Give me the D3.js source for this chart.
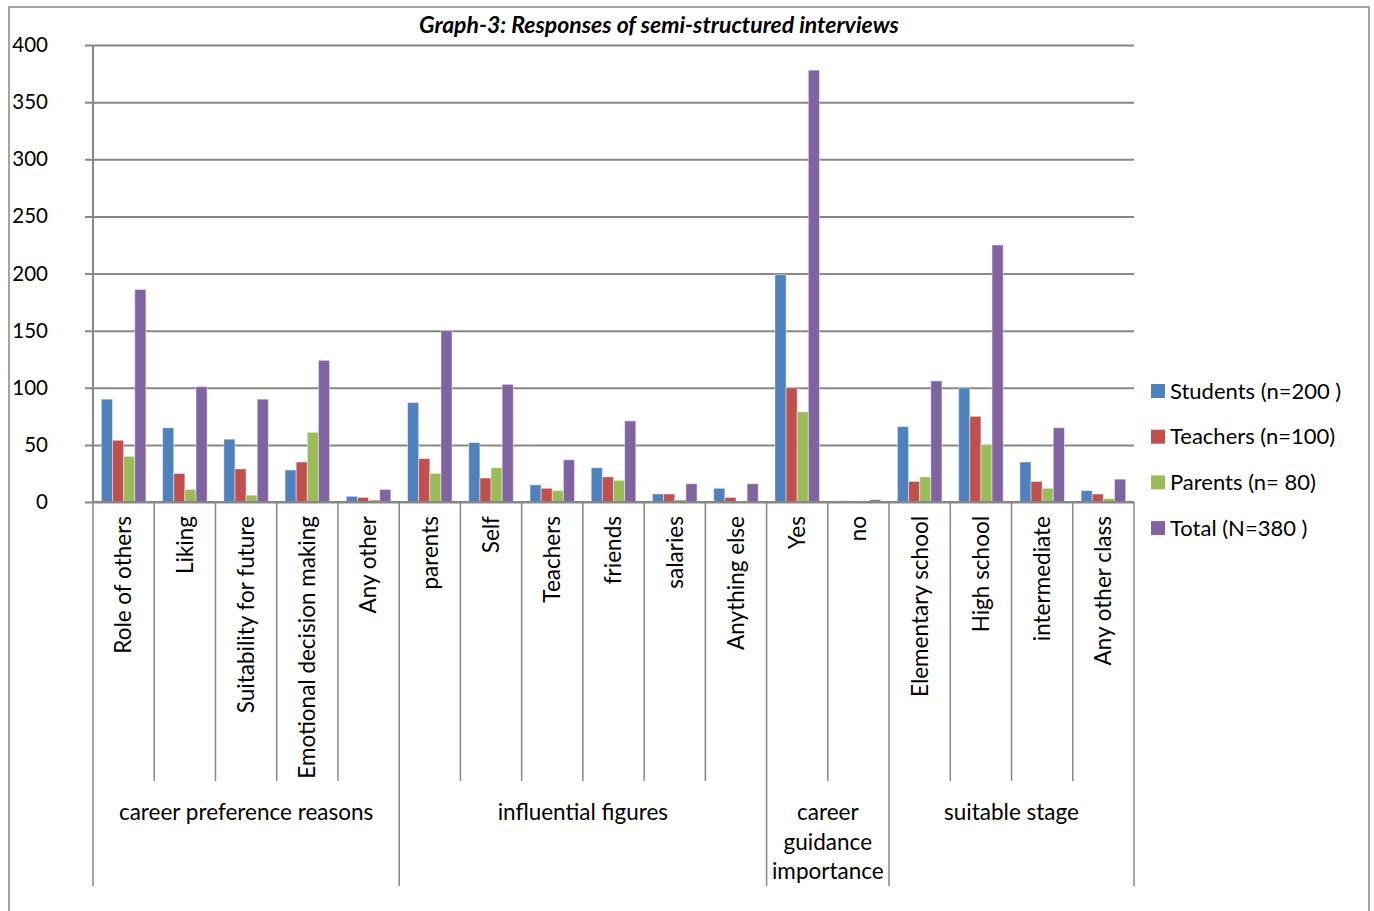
<!DOCTYPE html>
<html>
<head>
<meta charset="utf-8">
<script src="https://cdn.jsdelivr.net/npm/d3@7"></script>
<style>
  html, body { margin: 0; padding: 0; background: #fff; }
  svg { display: block; font-family: Lato, "Open Sans", sans-serif; }
</style>
</head>
<body>
<svg id="chart" width="1374" height="911"></svg>
<script>
// Categories along the x axis, with their group
const categories = ["Role of others", "Liking", "Suitability for future", "Emotional decision making", "Any other",
  "parents", "Self", "Teachers", "friends", "salaries", "Anything else",
  "Yes", "no",
  "Elementary school", "High school", "intermediate", "Any other class"];
const groups = [
  { name: ["career preference reasons"], size: 5 },
  { name: ["influential figures"], size: 6 },
  { name: ["career", "guidance", "importance"], size: 2 },
  { name: ["suitable stage"], size: 4 }
];

// Response counts per series
const students = [90, 65, 55, 28, 5, 87, 52, 15, 30, 7, 12, 199, 1, 66, 100, 35, 10];
const teachers = [54, 25, 29, 35, 4, 38, 21, 12, 22, 7, 4, 100, 0, 18, 75, 18, 7];
const parents  = [40, 11, 6, 61, 2, 25, 30, 10, 19, 2, 0, 79, 1, 22, 50, 12, 3];
const total    = [186, 101, 90, 124, 11, 150, 103, 37, 71, 16, 16, 378, 2, 106, 225, 65, 20];

const seriesNames = ["Students (n=200 )", "Teachers (n=100)", "Parents (n= 80)", "Total (N=380 )"];
const seriesValues = [students, teachers, parents, total];
const colors = ["#4F81BD", "#C0504D", "#9BBB59", "#8064A2"];
const yTicks = [0, 50, 100, 150, 200, 250, 300, 350, 400];

const title = "Graph-3: Responses of semi-structured interviews";

(function () {
  const svg = d3.select("#chart");
  const axisColor = "#878787";
  const labelSize = 22.5;

  // Plot area
  const pLeft = 93, pRight = 1134, pTop = 45, pBottom = 502;

  const x = d3.scaleBand().domain(d3.range(categories.length)).range([pLeft, pRight]).paddingInner(0).paddingOuter(0);
  const y = d3.scaleLinear().domain([0, 400]).range([pBottom, pTop]);

  // Outer frame
  svg.append("path")
    .attr("d", "M9,911 V7 H1369 V911")
    .attr("fill", "none").attr("stroke", axisColor).attr("stroke-width", 1.5);

  // Title
  svg.append("text")
    .attr("x", 659).attr("y", 33)
    .attr("text-anchor", "middle")
    .attr("font-size", 23).attr("font-weight", "bold").attr("font-style", "italic")
    .attr("fill", "#000")
    .text(title);

  // Horizontal gridlines and y tick labels
  const yAxis = d3.axisLeft(y).tickValues(yTicks).tickSize(pRight - pLeft + 8).tickSizeOuter(0).tickPadding(0);
  const yg = svg.append("g").attr("transform", `translate(${pRight},0)`).call(yAxis);
  yg.select(".domain").remove();
  yg.selectAll(".tick line").attr("stroke", axisColor).attr("stroke-width", 2);
  yg.selectAll(".tick text")
    .attr("x", -(pRight - 48))
    .attr("text-anchor", "end")
    .attr("font-size", 20.5).attr("font-family", "Lato, 'Open Sans', sans-serif")
    .attr("fill", "#000");

  // Bars
  const bandW = x.bandwidth();
  const barW = bandW / 5.5;
  const xs = d3.scaleBand().domain(d3.range(4)).range([barW * 0.75, barW * 4.75]);

  const barG = svg.append("g");
  seriesValues.forEach((vals, si) => {
    barG.selectAll(null)
      .data(vals)
      .enter()
      .append("rect")
      .attr("x", (d, i) => x(i) + xs(si))
      .attr("y", d => y(d))
      .attr("width", xs.bandwidth())
      .attr("height", d => pBottom - y(d))
      .attr("fill", colors[si])
      .attr("stroke", "rgba(255,255,255,0.45)")
      .attr("stroke-width", 1);
  });

  // Y axis line
  svg.append("line")
    .attr("x1", pLeft).attr("x2", pLeft).attr("y1", pTop).attr("y2", pBottom)
    .attr("stroke", axisColor).attr("stroke-width", 2);

  // X axis baseline
  svg.append("line")
    .attr("x1", pLeft).attr("x2", pRight).attr("y1", pBottom).attr("y2", pBottom)
    .attr("stroke", axisColor).attr("stroke-width", 2);

  // Category separators (short within groups, long at group boundaries)
  const groupEdges = new Set([0]);
  let acc = 0;
  groups.forEach(g => { acc += g.size; groupEdges.add(acc); });
  const sepG = svg.append("g");
  for (let i = 0; i <= categories.length; i++) {
    const xx = i < categories.length ? x(i) : pRight;
    sepG.append("line")
      .attr("x1", xx).attr("x2", xx)
      .attr("y1", pBottom).attr("y2", groupEdges.has(i) ? 886 : 781)
      .attr("stroke", axisColor).attr("stroke-width", 1.5);
  }

  // Rotated category labels
  svg.append("g").selectAll("text")
    .data(categories)
    .enter()
    .append("text")
    .attr("transform", (d, i) => `translate(${x(i) + bandW / 2},516) rotate(-90)`)
    .attr("text-anchor", "end")
    .attr("dy", "0.35em")
    .attr("font-size", labelSize)
    .attr("fill", "#000")
    .text(d => d);

  // Group labels
  let start = 0;
  groups.forEach(g => {
    const x0 = x(start);
    const x1 = start + g.size < categories.length ? x(start + g.size) : pRight;
    const t = svg.append("text")
      .attr("x", (x0 + x1) / 2).attr("y", 820)
      .attr("text-anchor", "middle")
      .attr("font-size", labelSize).attr("fill", "#000");
    g.name.forEach((line, li) => {
      t.append("tspan").attr("x", (x0 + x1) / 2).attr("dy", li === 0 ? 0 : 29.5).text(line);
    });
    start += g.size;
  });

  // Legend
  const legend = svg.append("g").attr("transform", "translate(1151,391)");
  seriesNames.forEach((name, i) => {
    const row = legend.append("g").attr("transform", `translate(0,${i * 45.7})`);
    row.append("rect").attr("x", 0).attr("y", -7).attr("width", 14).attr("height", 14).attr("fill", colors[i]);
    row.append("text").attr("x", 19).attr("y", 0).attr("dy", "0.35em")
      .attr("font-size", 22).attr("fill", "#000").text(name);
  });
})();
</script>
</body>
</html>
